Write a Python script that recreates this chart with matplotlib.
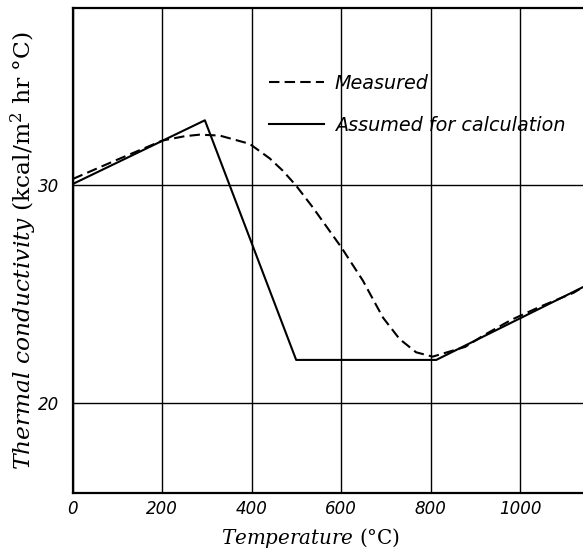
import matplotlib
matplotlib.use('Agg')
import matplotlib.pyplot as plt

plt.rcParams['mathtext.fontset'] = 'dejavuserif'

# measured curve (dashed)
measured_x = [0, 100, 200, 250, 283, 328, 395, 440, 469, 499, 536, 600, 648,
              693, 730, 767, 804, 877, 919, 980, 1044, 1119, 1140]
measured_y = [30.26, 31.15, 32.02, 32.22, 32.29, 32.25, 31.87, 31.2, 30.64,
              29.95, 28.96, 27.12, 25.6, 23.9, 22.92, 22.31, 22.11, 22.56,
              23.1, 23.8, 24.4, 25.04, 25.3]

# assumed for calculation (solid)
assumed_x = [0, 295, 499, 812, 1140]
assumed_y = [30.03, 32.95, 21.96, 21.96, 25.3]

xticks = [0, 200, 400, 600, 800, 1000]
yticks = [20, 30]

fig = plt.figure(figsize=(5.83, 5.51), dpi=100)
ax = fig.add_axes([0.125, 0.105, 0.875, 0.8805])

ax.plot(measured_x, measured_y, color='black', lw=1.5,
        linestyle=(0, (5, 2.5)), label='Measured')
ax.plot(assumed_x, assumed_y, color='black', lw=1.5,
        label='Assumed for calculation')

ax.set_xlim(0, 1140)
ax.set_ylim(15.85, 38.1)
ax.set_xticks(xticks)
ax.set_yticks(yticks)
ax.grid(True, color='black', lw=1.0)
ax.tick_params(length=0)
ax.tick_params(axis='x', pad=5)
ax.tick_params(axis='y', pad=10)
for lab in ax.get_xticklabels() + ax.get_yticklabels():
    lab.set_fontstyle('italic')
    lab.set_fontsize(12)
    lab.set_family('DejaVu Sans')

ax.spines['right'].set_visible(False)
for s in ['left', 'bottom', 'top']:
    ax.spines[s].set_linewidth(1.6)

ax.set_xlabel(r'$\mathit{Temperature}$ (°C)', family='DejaVu Serif',
              fontsize=14.3)
ax.xaxis.set_label_coords(0.467, -0.068)
ax.set_ylabel(r'$\mathit{Thermal\ conductivity}$ (kcal/m$^2$ hr °C)',
              family='DejaVu Serif', fontsize=16.8)
ax.yaxis.set_label_coords(-0.066, 0.5)

leg = ax.legend(loc='upper left', bbox_to_anchor=(0.35, 0.9), frameon=False,
                handlelength=2.9, handletextpad=0.55, labelspacing=1.2,
                prop={'family': 'DejaVu Sans', 'style': 'italic', 'size': 13.8})

fig.savefig('out.png', dpi=100)
